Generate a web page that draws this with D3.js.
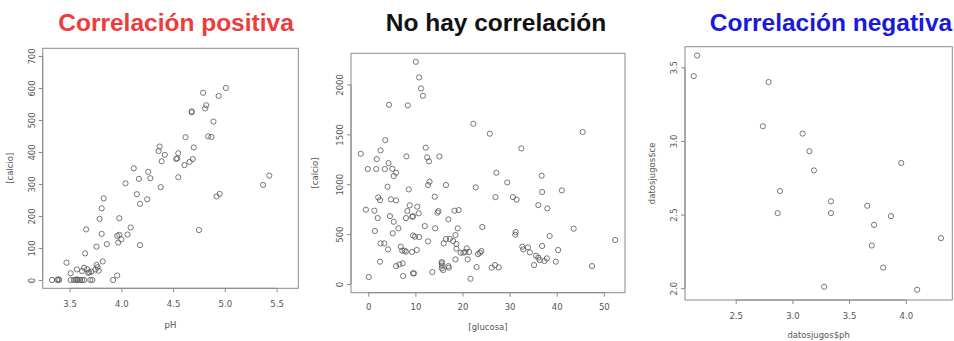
<!DOCTYPE html>
<html>
<head>
<meta charset="utf-8">
<script src="https://cdn.jsdelivr.net/npm/d3@7"></script>
<style>
  body { margin: 0; background: #fff; }
  svg { display: block; }
</style>
</head>
<body>
<div id="chart"></div>
<script>
// panel 1: pH vs calcio
var posX = [3.33,3.38,3.39,3.40,3.51,3.54,3.56,3.57,3.58,3.60,3.62,3.64,3.70,3.72,3.92,
  3.47,3.51,3.57,3.62,3.64,3.67,3.68,3.69,3.71,3.75,3.76,3.77,3.78,3.82,3.96,
  3.65,3.66,3.76,3.86,3.81,3.79,3.81,3.83,3.96,3.98,4.00,3.97,3.98,4.06,4.09,4.18,
  4.04,4.12,4.15,4.17,4.18,4.25,4.26,4.28,4.38,4.36,4.37,4.39,4.42,
  4.53,4.54,4.55,4.55,4.61,4.62,4.66,4.69,4.70,4.68,4.68,4.79,4.81,4.82,4.84,4.87,4.89,4.94,5.01,
  4.75,4.92,4.95,5.37,5.43];
var posY = [0,0,2,0,0,0,0,2,0,0,0,0,0,0,0,
  54,21,33,28,38,33,22,24,26,33,47,40,29,58,14,
  83,158,104,112,144,191,224,255,138,141,127,117,193,142,164,109,
  302,349,268,316,238,252,338,318,290,403,417,371,391,
  378,380,396,321,359,446,369,378,414,524,527,585,536,546,449,447,495,575,600,
  156,261,269,297,326];

// panel 2: glucosa vs calcio
var noneX = [10.1,10.8,11.2,11.6,4.4,8.4,22.3,25.8,45.5,3.6,12.2,32.5,-1.6,2.6,8.1,15.1,1.8,12.5,12.9,4.3,
  -0.1,1.7,3.5,5.1,5.9,5.4,27.2,36.8,4.1,8.6,12.7,13.0,16.5,22.8,29.5,36.9,41.1,14.1,2.1,2.5,
  4.8,5.9,27.0,30.7,31.5,-0.5,1.3,2.0,4.6,5.4,6.4,5.2,1.4,8.3,8.8,8.0,9.3,9.5,10.4,10.7,
  14.7,14.9,17.0,18.3,19.2,12.0,14.2,19.0,24.2,31.3,31.2,43.6,2.6,3.4,4.2,6.9,7.2,7.7,8.0,9.5,
  9.9,10.8,9.3,10.3,12.7,16.0,16.5,17.3,18.0,18.5,18.7,18.7,19.6,20.2,20.6,20.9,21.4,21.1,18.5,23.3,
  23.7,24.0,32.7,32.9,33.9,34.3,35.6,36.1,36.4,36.9,37.4,37.9,38.5,36.1,38.0,40.3,39.8,35.2,2.5,5.9,
  6.6,7.3,7.4,9.5,9.7,13.6,15.6,15.6,15.6,15.6,15.9,17.0,17.1,21.7,23.0,26.2,26.9,27.7,47.5,52.4,0.1];
var noneY = [2227,2070,1960,1886,1796,1790,1606,1506,1523,1442,1366,1359,1305,1339,1279,1279,1252,1269,1229,1212,
  1152,1152,1152,1155,1115,1082,1115,1085,975,948,992,1025,992,968,1018,922,938,875,868,841,
  848,838,871,871,845,745,735,661,681,624,558,508,531,731,788,661,674,680,775,708,
  715,731,648,735,741,581,558,558,571,521,494,554,407,407,347,374,334,334,324,487,
  474,471,321,341,427,407,451,451,431,491,401,354,314,314,321,357,321,247,247,300,
  314,331,374,347,367,317,284,264,240,381,230,257,481,791,758,341,224,190,224,180,
  197,207,80,107,107,120,220,207,184,157,140,180,164,53,170,164,190,167,180,441,70];

// panel 3: datosjugos$ph vs datosjugos$ce
var negX = [2.16,2.13,2.79,2.74,3.09,3.15,3.19,3.96,2.89,2.87,3.34,3.34,3.66,3.87,3.72,3.70,4.31,3.80,3.28,4.10];
var negY = [3.58,3.44,3.40,3.10,3.05,2.93,2.80,2.85,2.66,2.51,2.59,2.51,2.56,2.49,2.43,2.29,2.34,2.14,2.01,1.99];

// tick labels
var posXTicks = [3.5, 4.0, 4.5, 5.0, 5.5];
var posYTicks = [0, 100, 200, 300, 400, 500, 600, 700];
var noneXTicks = [0, 10, 20, 30, 40, 50];
var noneYTicks = [0, 500, 1000, 1500, 2000];
var negXTicks = [2.5, 3.0, 3.5, 4.0];
var negYTicks = [2.0, 2.5, 3.0, 3.5];

var titles = ["Correlación positiva", "No hay correlación", "Correlación negativa"];
var titleColors = ["#ee3b3b", "#111111", "#1a1ad8"];

var svgWidth = 954;
var svgHeight = 341;

var svg = d3.select("#chart").append("svg")
    .attr("width", svgWidth)
    .attr("height", svgHeight);

var panels = [
  { xs: posX, ys: posY, xt: posXTicks, yt: posYTicks, fmtX: d3.format(".1f"), fmtY: d3.format("d"),
    xd: [3.24, 5.71], yd: [-26, 724], box: [42.7, 48.3, 298.3, 288.3],
    xlab: "pH", ylab: "[calcio]", xlabY: 325, ylabX: 10, xtickOff: 13, title: titles[0], tColor: titleColors[0], tx: 176 },
  { xs: noneX, ys: noneY, xt: noneXTicks, yt: noneYTicks, fmtX: d3.format("d"), fmtY: d3.format("d"),
    xd: [-3.67, 54.5], yd: [-87, 2312], box: [351, 53.3, 625, 292.7],
    xlab: "[glucosa]", ylab: "[calcio]", xlabY: 327, ylabX: 315, xtickOff: 11.5, title: titles[1], tColor: titleColors[1], tx: 496 },
  { xs: negX, ys: negY, xt: negXTicks, yt: negYTicks, fmtX: d3.format(".1f"), fmtY: d3.format(".1f"),
    xd: [2.053, 4.41], yd: [1.92, 3.64], box: [685, 46.7, 952.3, 300],
    xlab: "datosjugos$ph", ylab: "datosjugos$ce", xlabY: 335, ylabX: 652, xtickOff: 13, title: titles[2], tColor: titleColors[2], tx: 831 }
];

panels.forEach(function(p) {
  var x0 = p.box[0], y0 = p.box[1], x1 = p.box[2], y1 = p.box[3];

  var xScale = d3.scaleLinear().domain(p.xd).range([x0, x1]);
  var yScale = d3.scaleLinear().domain(p.yd).range([y1, y0]);

  // title
  svg.append("text")
    .attr("x", p.tx)
    .attr("y", 31)
    .attr("text-anchor", "middle")
    .attr("font-family", "Liberation Sans, Arial, sans-serif")
    .attr("font-weight", "bold")
    .attr("font-size", 24.5)
    .attr("fill", p.tColor)
    .text(p.title);

  // box
  svg.append("rect")
    .attr("x", x0).attr("y", y0)
    .attr("width", x1 - x0).attr("height", y1 - y0)
    .attr("fill", "none")
    .attr("stroke", "#8a8a8a")
    .attr("stroke-width", 1);

  // x axis
  var xAxis = d3.axisBottom(xScale).tickValues(p.xt).tickFormat(p.fmtX).tickSize(4).tickPadding(p.xtickOff - 4);
  var gx = svg.append("g")
    .attr("transform", `translate(0, ${y1})`)
    .call(xAxis);
  gx.select(".domain")
    .attr("d", `M${xScale(p.xt[0])},0H${xScale(p.xt[p.xt.length - 1])}`)
    .attr("stroke", "#8a8a8a");

  // y axis, labels turned like R does
  var yAxis = d3.axisLeft(yScale).tickValues(p.yt).tickFormat(p.fmtY).tickSize(4);
  var gy = svg.append("g")
    .attr("transform", `translate(${x0}, 0)`)
    .call(yAxis);
  gy.select(".domain")
    .attr("d", `M0,${yScale(p.yt[0])}V${yScale(p.yt[p.yt.length - 1])}`)
    .attr("stroke", "#8a8a8a");
  gy.selectAll(".tick text")
    .attr("transform", "rotate(-90)")
    .attr("x", 0)
    .attr("y", -8)
    .attr("dy", 0)
    .attr("text-anchor", "middle");

  [gx, gy].forEach(function(g) {
    g.selectAll(".tick line").attr("stroke", "#8a8a8a");
    g.selectAll(".tick text")
      .attr("fill", "#555")
      .attr("font-family", "DejaVu Sans, sans-serif")
      .attr("font-size", 8.5);
  });

  // axis titles
  svg.append("text")
    .attr("x", (x0 + x1) / 2)
    .attr("y", p.xlabY + 3)
    .attr("text-anchor", "middle")
    .attr("font-family", "DejaVu Sans, sans-serif")
    .attr("font-size", 8.5)
    .attr("fill", "#555")
    .text(p.xlab);

  svg.append("text")
    .attr("transform", `translate(${p.ylabX + 3}, ${(y0 + y1) / 2}) rotate(-90)`)
    .attr("text-anchor", "middle")
    .attr("font-family", "DejaVu Sans, sans-serif")
    .attr("font-size", 8.5)
    .attr("fill", "#555")
    .text(p.ylab);

  // points
  svg.append("g").selectAll("circle")
    .data(p.xs.map(function(d, i) { return [d, p.ys[i]]; }))
    .enter()
    .append("circle")
    .attr("cx", d => xScale(d[0]))
    .attr("cy", d => yScale(d[1]))
    .attr("r", 2.6)
    .attr("fill", "none")
    .attr("stroke", "#555")
    .attr("stroke-width", 0.8);
});
</script>
</body>
</html>
